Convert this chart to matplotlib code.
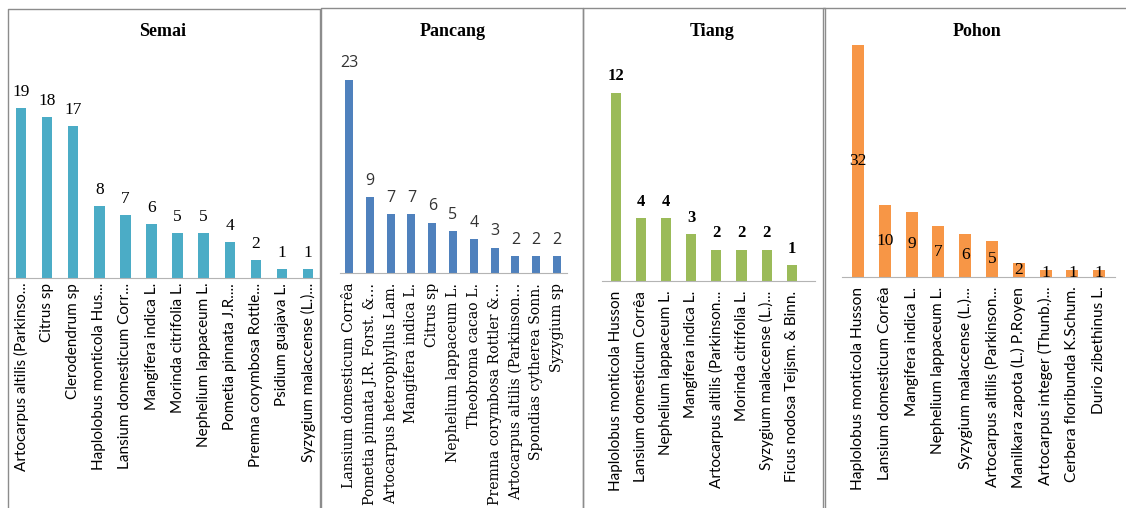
import matplotlib.pyplot as plt
from matplotlib.lines import Line2D

W, H = 1126, 508

# data
semai_names = ['Artocarpus altilis (Parkinso...', 'Citrus sp', 'Clerodendrum sp',
               'Haplolobus monticola Hus...', 'Lansium domesticum Corr...',
               'Mangifera indica L.', 'Morinda citrifolia L.', 'Nephelium lappaceum L.',
               'Pometia pinnata J.R....', 'Premna corymbosa Rottle...',
               'Psidium guajava L.', 'Syzygium malaccense (L.)...']
semai_vals = [19, 18, 17, 8, 7, 6, 5, 5, 4, 2, 1, 1]

pancang_names = ['Lansium domesticum Corrêa', 'Pometia pinnata J.R. Forst. &...',
                 'Artocarpus heterophyllus Lam.', 'Mangifera indica L.', 'Citrus sp',
                 'Nephelium lappaceum L.', 'Theobroma cacao L.',
                 'Premna corymbosa Rottler &...', 'Artocarpus altilis (Parkinson...',
                 'Spondias cytherea Sonn.', 'Syzygium sp']
pancang_vals = [23, 9, 7, 7, 6, 5, 4, 3, 2, 2, 2]

tiang_names = ['Haplolobus monticola Husson', 'Lansium domesticum Corrêa',
               'Nephelium lappaceum L.', 'Mangifera indica L.',
               'Artocarpus altilis (Parkinson...', 'Morinda citrifolia L.',
               'Syzygium malaccense (L.)...', 'Ficus nodosa Teijsm. & Binn.']
tiang_vals = [12, 4, 4, 3, 2, 2, 2, 1]

pohon_names = ['Haplolobus monticola Husson', 'Lansium domesticum Corrêa',
               'Mangifera indica L.', 'Nephelium lappaceum L.',
               'Syzygium malaccense (L.)...', 'Artocarpus altilis (Parkinson...',
               'Manilkara zapota (L.) P.Royen', 'Artocarpus integer (Thunb.)...',
               'Cerbera floribunda K.Schum.', 'Durio zibethinus L.']
pohon_vals = [32, 10, 9, 7, 6, 5, 2, 1, 1, 1]

fig = plt.figure(figsize=(W / 100, H / 100), dpi=100)


def panel(names, vals, color, title, title_x, x0, x1, c0, step, base, ppu, width,
          tick_font, tick_size, pad, val_font, val_size, val_weight='normal',
          val_color='black', inside=False):
    ax = fig.add_axes([x0 / W, (H - base) / H, (x1 - x0) / W, (base - 10) / H])
    n = len(vals)
    pos = list(range(n))
    ax.bar(pos, vals, width=width, color=color)
    ax.set_xlim(-(c0 - x0) / step, (x1 - c0) / step)
    ax.set_ylim(0, (base - 10) / ppu)
    for s in ['top', 'left', 'right']:
        ax.spines[s].set_visible(False)
    ax.spines['bottom'].set_color('#b4b4b4')
    ax.set_yticks([])
    ax.set_xticks(pos)
    ax.set_xticklabels(names, rotation=90, fontsize=tick_size, family=tick_font)
    ax.tick_params(axis='x', length=0, pad=pad)
    for p, v in zip(pos, vals):
        if inside:
            ax.text(p, v / 2, str(v), ha='center', va='center', fontsize=val_size,
                    family=val_font, weight=val_weight, color=val_color)
        else:
            ax.annotate(str(v), (p, v), xytext=(0, 6), textcoords='offset points',
                        ha='center', va='bottom', fontsize=val_size, family=val_font,
                        weight=val_weight, color=val_color)
    fig.text(title_x / W, 1 - 32 / H, title, ha='center', va='center',
             fontsize=13, weight='bold', family='Liberation Serif')
    return ax


panel(semai_names, semai_vals, '#4BACC6', 'Semai', 163, 8, 320, 21, 26.1, 278, 8.95,
      0.4, 'Lato', 11, 3.5, 'Liberation Serif', 12.5)
panel(pancang_names, pancang_vals, '#4F81BD', 'Pancang', 453, 340, 567, 349, 20.8, 273,
      8.4, 0.38, 'DejaVu Serif', 10.1, 7, 'Open Sans', 11.5, val_color='#333333')
panel(tiang_names, tiang_vals, '#9BBB59', 'Tiang', 712, 602, 815, 616, 25.1, 281, 15.7,
      0.4, 'Lato', 11, 7, 'Liberation Serif', 12, val_weight='bold')
panel(pohon_names, pohon_vals, '#F79646', 'Pohon', 977, 842, 1115, 858, 26.8, 277, 7.25,
      0.45, 'Lato', 11.2, 7, 'Liberation Serif', 12.5, inside=True)

# panel borders
def border(x0, x1, top):
    pts = [(x0, H), (x0, top), (x1, top), (x1, H)]
    xs = [p[0] / W for p in pts]
    ys = [1 - p[1] / H for p in pts]
    fig.add_artist(Line2D(xs, ys, color='#8c8c8c', lw=1))

border(8, 320, 9)
border(321, 583, 8)
border(583, 825, 8)
border(823, 1130, 8)

fig.savefig('out.png', dpi=100)
